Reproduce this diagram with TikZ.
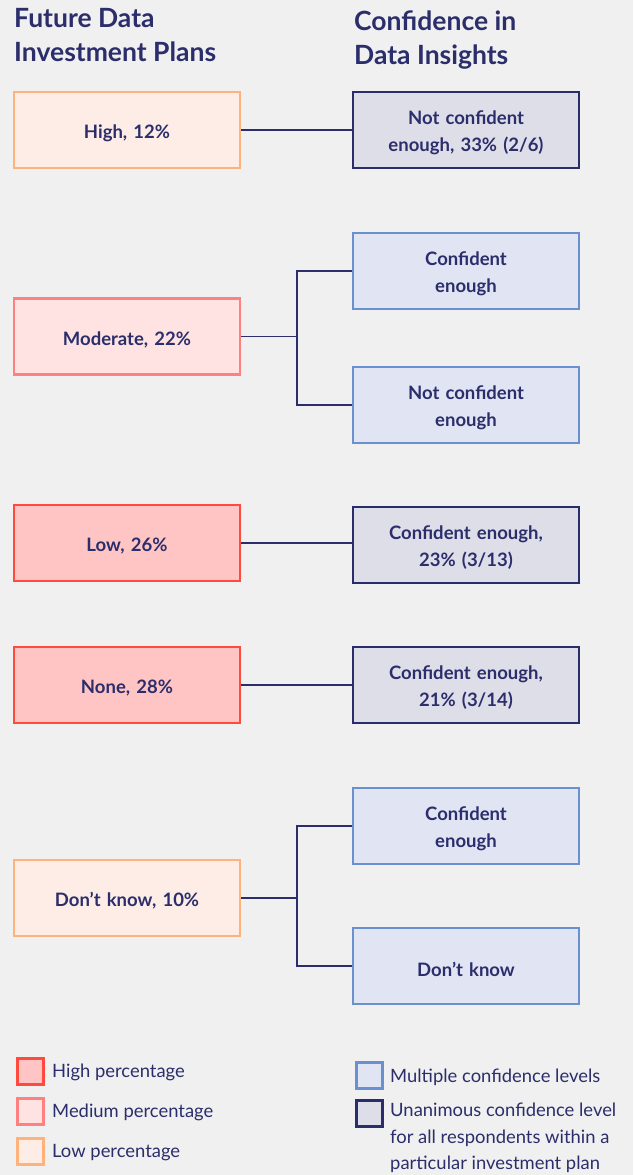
\documentclass[tikz,border=0pt]{standalone}
\usepackage{fontspec}
\setmainfont{Lato}
\definecolor{bg}{HTML}{F0F0F0}
\definecolor{navy}{HTML}{2B2E6B}
\definecolor{hiF}{HTML}{FFC4C4}\definecolor{hiD}{HTML}{FF4A3D}
\definecolor{meF}{HTML}{FFE3E3}\definecolor{meD}{HTML}{FF8080}
\definecolor{loF}{HTML}{FDEDE6}\definecolor{loD}{HTML}{FFB27A}
\definecolor{muF}{HTML}{E1E4F3}\definecolor{muD}{HTML}{6A90CF}
\definecolor{unF}{HTML}{DEDEE8}\definecolor{unD}{HTML}{2A2D6B}
\tikzset{
 box/.style={rectangle, line width=2.5pt, minimum width=226pt, minimum height=76pt, inner sep=0pt},
 btxt/.style={text=navy, align=center, inner sep=0pt, yshift=-3pt, font=\fontsize{18.5}{27}\selectfont\bfseries, text width=215pt},
 hi/.style={box, draw=hiD, fill=hiF},
 me/.style={box, draw=meD, fill=meF},
 lo/.style={box, draw=loD, fill=loF},
 mu/.style={box, draw=muD, fill=muF},
 un/.style={box, draw=unD, fill=unF},
 conn/.style={draw=navy, line width=1.2pt},
 hdr/.style={anchor=north west, inner sep=0pt, text=navy, align=left, font=\fontsize{26.5}{34}\selectfont\bfseries},
 lsq/.style={rectangle, line width=2.5pt, minimum size=26pt, inner sep=0pt, anchor=north west},
 ltx/.style={anchor=west, inner sep=0pt, text=navy, align=left, font=\fontsize{18.4}{26.5}\selectfont},
}
\begin{document}
\begin{tikzpicture}[x=1pt,y=-1pt]
\fill[bg] (0,0) rectangle (633,1175);
\useasboundingbox (0,0) rectangle (633,1175);
\node[hdr] (h1) at (14,8) {Future Data\\Investment Plans};
\node[hdr] (h2) at (354,11) {Confidence in\\Data Insights};
% left
\node[lo, label={[btxt]center:High, 12\%}] (high) at (127,130) {};
\node[me, label={[btxt]center:Moderate, 22\%}] (mod) at (127,336.5) {};
\node[hi, label={[btxt]center:Low, 26\%}] (low) at (127,543) {};
\node[hi, label={[btxt]center:None, 28\%}] (none) at (127,685) {};
\node[lo, label={[btxt]center:Don’t know, 10\%}] (dk) at (127,898) {};
% right
\node[un, label={[btxt]center:{Not confident\\enough, 33\% (2/6)}}] (r1) at (466,130) {};
\node[mu, label={[btxt]center:{Confident\\enough}}] (r2) at (466,271) {};
\node[mu, label={[btxt]center:{Not confident\\enough}}] (r3) at (466,405) {};
\node[un, label={[btxt]center:{Confident enough,\\23\% (3/13)}}] (r4) at (466,545) {};
\node[un, label={[btxt]center:{Confident enough,\\21\% (3/14)}}] (r5) at (466,685) {};
\node[mu, label={[btxt]center:{Confident\\enough}}] (r6) at (466,826) {};
\node[mu, label={[btxt]center:Don’t know}] (r7) at (466,966) {};
% connectors
\draw[conn] (high.east) -- (r1.west);
\coordinate (j1) at (297,336.5);
\draw[conn] (mod.east) -- (j1);
\draw[conn] (r2.west) -| (j1) |- (r3.west);
\draw[conn] (low.east) -- (r4.west |- low.east);
\draw[conn] (none.east) -- (r5.west);
\coordinate (j2) at (297,898);
\draw[conn] (dk.east) -- (j2);
\draw[conn] (r6.west) -| (j2) |- (r7.west);
% legend
\node[lsq, draw=hiD, fill=hiF] (l1) at (16,1057) {};
\node[ltx] (t1) at (52,1072.5) {High percentage};
\node[lsq, draw=meD, fill=meF] (l2) at (16,1097) {};
\node[ltx] (t2) at (52,1112.5) {Medium percentage};
\node[lsq, draw=loD, fill=loF] (l3) at (16,1137) {};
\node[ltx] (t3) at (52,1152.5) {Low percentage};
\node[lsq, draw=muD, fill=muF] (l4) at (355,1061) {};
\node[ltx] (t4) at (390,1077) {Multiple confidence levels};
\node[lsq, draw=unD, fill=unF] (l5) at (355,1099) {};
\node[ltx, anchor=north west] (t5) at (390,1103) {Unanimous confidence level\\for all respondents within a\\particular investment plan};
\end{tikzpicture}
\end{document}
